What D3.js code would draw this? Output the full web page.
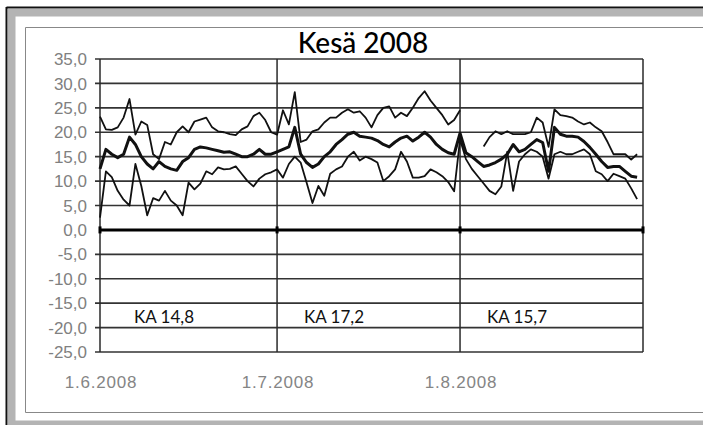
<!DOCTYPE html>
<html><head><meta charset="utf-8">
<script src="https://cdn.jsdelivr.net/npm/d3@7/dist/d3.min.js"></script>
<style>body{margin:0;background:#fff} svg{display:block}</style>
</head><body>
<svg id="c" width="703" height="425"></svg>
<script>
// ---- data (daily values 1.6.2008 .. 31.8.2008) ----
const startDate = new Date(2008, 5, 1);
const endDate = new Date(2008, 8, 1);
const maxT = [23.2,20.6,20.5,21,23,26.8,19.5,22.2,21.5,15.5,14.5,18,17.5,20,21.2,20,22.2,22.6,23,21,20.2,20,19.6,19.4,20.6,21.2,23.3,24,22.5,20,
  19.5,24.5,21.6,28.2,18,18.5,20.2,20.6,22,23,23,24,24.7,24,24.3,23,21,23.5,25,25.3,23,24,23.3,25,27,28.4,26.5,25,23.5,21.6,22.5,
  24.5,null,null,null,17.1,19,20.2,19.6,20.2,19.6,19.6,19.6,20,23,22,17,24.7,23.5,23.3,23,22.2,21.6,22,21,20.2,18,15.5,15.5,15.5,14.4,15.5];
const meanT = [12.5,16.5,15.5,14.8,15.5,19,17.5,15,13.5,12.5,14,13,12.5,12.2,14,14.8,16.5,17,16.8,16.5,16.2,15.9,16,15.5,15,15,15.5,16.5,15.5,15.5,
  16,16.5,17,21,15.5,13.8,12.8,13.5,15,16,17.5,18.5,19.6,20,19.2,19,18.8,18.3,17.5,17,18,18.8,19.2,18.2,19,20,19,17.5,16.5,15.8,15.5,
  19.8,15.8,15,14,13,13.3,13.8,14.5,15.5,17.5,16,16.5,17.5,18.5,17.9,12,21,19.6,19.2,19.2,19,18.1,16.9,15.5,14,12.8,13,13,12,11,10.8];
const minT = [2.5,12,10.8,8,6.2,5,13.5,9,3,6.5,6,8,6,5,3,9.7,8.3,9.5,12,11.4,12.8,12.4,12.5,13,11.5,10,8.9,10.5,11.4,11.8,
  12.4,10.7,13.5,15,13.8,9.7,5.5,9,7,11.5,12.4,13,15,16,14.2,15,14.5,13.8,10,11,12.4,16,14,10.7,10.7,11,12.4,11.8,11,9.8,7.9,
  18.5,14.5,12.5,11,9.5,8,7.3,8.9,16,8,14,15.5,16.5,16,15,10.5,15.5,16,15.5,15.5,16,16.5,15.5,12,11.4,10,11.5,11,10.5,8.5,6.3];
const yTicks = [35,30,25,20,15,10,5,0,-5,-10,-15,-20,-25];
const monthTicks = [new Date(2008,5,1), new Date(2008,6,1), new Date(2008,7,1)];
const kaTexts = ["KA 14,8", "KA 17,2", "KA 15,7"];
const titleText = "Kesä 2008";

// ---- layout ----
const svg = d3.select("#c");
const L = 100, R = 643, T = 59, B = 352;
const x = d3.scaleTime().domain([startDate, endDate]).range([L, R]);
const y = d3.scaleLinear().domain([-25, 35]).range([B, T]);
const days = d3.range(maxT.length).map(i => d3.timeDay.offset(startDate, i));

// frame
svg.append("rect").attr("x",0).attr("y",0).attr("width",703).attr("height",425).attr("fill","#fff");
svg.append("rect").attr("x",8).attr("y",9).attr("width",700).attr("height",7.5).attr("fill","#b4b4b4");
svg.append("rect").attr("x",8).attr("y",9).attr("width",7.5).attr("height",420).attr("fill","#b4b4b4");
svg.append("rect").attr("x",8).attr("y",420.5).attr("width",700).attr("height",6).attr("fill","#b4b4b4");
svg.append("line").attr("x1",6.5).attr("x2",703).attr("y1",7.5).attr("y2",7.5).attr("stroke","#111").attr("stroke-width",2);
svg.append("line").attr("x1",6.5).attr("x2",6.5).attr("y1",7).attr("y2",425).attr("stroke","#111").attr("stroke-width",2);
svg.append("path").attr("d","M703,27.5H25.5V412.5H703").attr("fill","none").attr("stroke","#888").attr("stroke-width",1);

// horizontal gridlines
svg.append("g").selectAll("line").data(yTicks.filter(v => v !== 0)).join("line")
  .attr("x1", L - 5).attr("x2", R).attr("y1", d => y(d)).attr("y2", d => y(d))
  .attr("stroke", "#333").attr("stroke-width", 1.6);
// vertical month gridlines
svg.append("g").selectAll("line").data(monthTicks.concat([endDate])).join("line")
  .attr("x1", d => x(d)).attr("x2", d => x(d)).attr("y1", T).attr("y2", B)
  .attr("stroke", "#2a2a2a").attr("stroke-width", 1.5);

// y axis labels
const fmt = d3.formatLocale({decimal:",", thousands:" ", grouping:[3], currency:["",""], minus:"-"}).format(".1f");
svg.append("g").selectAll("text").data(yTicks).join("text")
  .attr("x", L - 13).attr("y", d => y(d)).attr("dy", "0.36em").attr("text-anchor", "end")
  .attr("font-family", "Liberation Sans, Arial, sans-serif").attr("font-size", 17)
  .attr("fill", "#808080").text(d => fmt(d));

// x axis labels
const tf = d3.timeFormat("%-d.%-m.%Y");
svg.append("g").selectAll("text").data(monthTicks).join("text")
  .attr("x", d => x(d) + 1).attr("y", 388).attr("text-anchor", "middle")
  .attr("font-family", "Liberation Sans, Arial, sans-serif").attr("font-size", 17)
  .attr("letter-spacing", 0.8).attr("fill", "#858585").text(d => tf(d));

// zero axis
svg.append("line").attr("x1", L).attr("x2", R).attr("y1", y(0)).attr("y2", y(0))
  .attr("stroke", "#000").attr("stroke-width", 3);
svg.append("g").selectAll("line").data(monthTicks.concat([endDate])).join("line")
  .attr("x1", d => x(d)).attr("x2", d => x(d)).attr("y1", y(0) - 3.5).attr("y2", y(0) + 3.5)
  .attr("stroke", "#000").attr("stroke-width", 3);

// series
const line = d3.line().defined(d => d[1] !== null).x(d => x(d[0])).y(d => y(d[1]));
const series = [
  {vals: maxT, w: 1.8},
  {vals: minT, w: 1.8},
  {vals: meanT, w: 3}
];
svg.append("g").selectAll("path").data(series).join("path")
  .attr("d", s => line(days.map((dt, i) => [dt, s.vals[i]])))
  .attr("fill", "none").attr("stroke", "#111").attr("stroke-width", s => s.w)
  .attr("stroke-linejoin", "round");

// KA labels
const kaOffsets = [34, 27, 27];
svg.append("g").selectAll("text").data(kaTexts).join("text")
  .attr("x", (d, i) => x(monthTicks[i]) + kaOffsets[i]).attr("y", y(-19))
  .attr("font-family", "Lato, 'Noto Sans', sans-serif").attr("font-size", 17)
  .attr("fill", "#111").text(d => d);

// title
svg.append("text").attr("x", 363).attr("y", 53).attr("text-anchor", "middle")
  .attr("font-family", "Lato, 'Noto Sans', sans-serif").attr("font-size", 28).attr("font-weight", 500)
  .attr("fill", "#000").text(titleText);
</script>
</body></html>
